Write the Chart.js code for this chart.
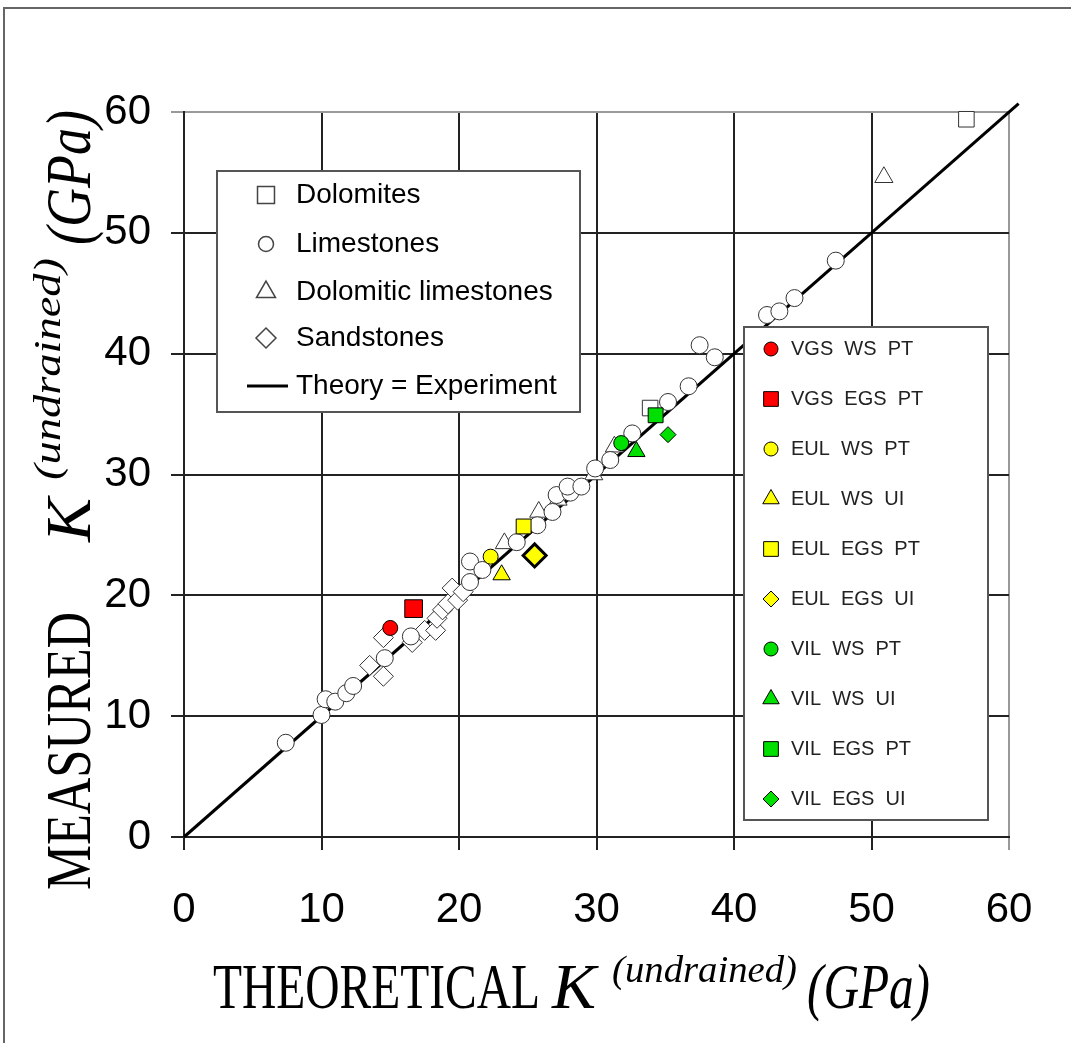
<!DOCTYPE html>
<html>
<head>
<meta charset="utf-8">
<script src="https://cdn.jsdelivr.net/npm/chart.js@4/dist/chart.umd.min.js"></script>
<style>
  html, body { margin: 0; padding: 0; background: #fff; }
  canvas { display: block; }
</style>
</head>
<body>
<canvas id="kChart" width="1071" height="1043"></canvas>
<script>
// axis ticks
const xTicks = [0, 10, 20, 30, 40, 50, 60];
const yTicks = [0, 10, 20, 30, 40, 50, 60];

// rock groups, [theoretical, measured] in GPa
const dolomites = [[56.9, 59.4], [33.9, 35.5]];
const limestones = [
  [7.4, 7.8], [10.0, 10.1], [10.3, 11.4], [11.0, 11.2], [11.8, 11.9], [12.3, 12.5],
  [14.6, 14.8], [16.5, 16.6], [20.8, 21.1], [20.8, 22.8], [21.7, 22.1], [24.2, 24.4],
  [25.7, 25.8], [26.8, 26.9], [27.1, 28.3], [28.1, 28.5], [27.9, 29.0], [28.9, 29.0],
  [29.9, 30.5], [31.0, 31.2], [32.6, 33.4], [35.2, 36.0], [36.7, 37.3], [37.5, 40.7],
  [38.6, 39.7], [42.4, 43.2], [43.3, 43.5], [44.4, 44.6], [47.4, 47.7]
];
const dolomiticLimestones = [
  [50.9, 54.6], [23.3, 24.3], [25.8, 26.9], [27.2, 27.9], [29.8, 30.0], [31.3, 32.3]
];
const sandstones = [
  [13.5, 14.2], [14.5, 13.3], [14.5, 16.5], [16.6, 16.1], [17.5, 17.1], [18.3, 17.1],
  [18.4, 18.1], [18.8, 18.8], [19.2, 19.3], [19.5, 20.6], [19.9, 19.6], [20.3, 20.3]
];
const theoryLine = [[0, 0], [60.7, 60.7]];

// individual samples
const sampleNames = ["VGS  WS  PT", "VGS  EGS  PT", "EUL  WS  PT", "EUL  WS  UI", "EUL  EGS  PT",
                     "EUL  EGS  UI", "VIL  WS  PT", "VIL  WS  UI", "VIL  EGS  PT", "VIL  EGS  UI"];
const sampleX = [15.0, 16.7, 22.3, 23.1, 24.7, 25.5, 31.8, 32.9, 34.3, 35.2];
const sampleY = [17.3, 18.9, 23.2, 21.7, 25.7, 23.3, 32.6, 31.9, 34.9, 33.3];

const RED = "#ff0000", YEL = "#ffff00", GRN = "#00e000";
const sampleStyle = [
  { shape: "circle", color: RED, r: 7.5, bw: 1 },
  { shape: "rect", color: RED, r: 12.5, bw: 1 },
  { shape: "circle", color: YEL, r: 7.5, bw: 1 },
  { shape: "triangle", color: YEL, r: 10, bw: 1 },
  { shape: "rect", color: YEL, r: 10.5, bw: 1 },
  { shape: "rectRot", color: YEL, r: 11.5, bw: 3 },
  { shape: "circle", color: GRN, r: 7.5, bw: 1 },
  { shape: "triangle", color: GRN, r: 10, bw: 1 },
  { shape: "rect", color: GRN, r: 10.5, bw: 1 },
  { shape: "rectRot", color: GRN, r: 8, bw: 1 }
];

const pts = arr => arr.map(p => ({ x: p[0], y: p[1] }));

const datasets = [];
sampleNames.forEach((name, i) => {
  const s = sampleStyle[i];
  datasets.push({
    label: name,
    data: [{ x: sampleX[i], y: sampleY[i] }],
    pointStyle: s.shape, pointRadius: s.r,
    backgroundColor: s.color, borderColor: "#000", borderWidth: s.bw
  });
});
const open = (label, data, shape, r) => ({
  label, data: pts(data), pointStyle: shape, pointRadius: r,
  backgroundColor: "#fff", borderColor: "#333", borderWidth: 1
});
datasets.push(open("Dolomites", dolomites, "rect", 11));
datasets.push(open("Limestones", limestones, "circle", 8.5));
datasets.push(open("Dolomitic limestones", dolomiticLimestones, "triangle", 10.5));
datasets.push(open("Sandstones", sandstones, "rectRot", 10));
datasets.push({
  label: "Theory = Experiment", data: pts(theoryLine), showLine: true,
  borderColor: "#000", borderWidth: 3, pointRadius: 0
});

// small marker drawer for the two legend boxes
function marker(ctx, shape, x, y, r, fill, stroke, bw) {
  ctx.beginPath();
  if (shape === "circle") {
    ctx.arc(x, y, r, 0, Math.PI * 2);
  } else if (shape === "rect") {
    const h = r * Math.SQRT1_2;
    ctx.rect(x - h, y - h, 2 * h, 2 * h);
  } else if (shape === "triangle") {
    for (let k = 0; k < 3; k++) {
      const a = k * 2 * Math.PI / 3;
      ctx[k ? "lineTo" : "moveTo"](x + Math.sin(a) * r, y - Math.cos(a) * r);
    }
    ctx.closePath();
  } else {
    ctx.moveTo(x, y - r); ctx.lineTo(x + r, y); ctx.lineTo(x, y + r); ctx.lineTo(x - r, y);
    ctx.closePath();
  }
  ctx.fillStyle = fill; ctx.fill();
  ctx.lineWidth = bw; ctx.strokeStyle = stroke; ctx.stroke();
}

// text squeezed to a given width
function fitText(ctx, text, x, y, font, w) {
  ctx.font = font;
  const m = ctx.measureText(text).width;
  ctx.save();
  ctx.translate(x, y);
  ctx.scale(w / m, 1);
  ctx.fillText(text, 0, 0);
  ctx.restore();
}

const decor = {
  id: "decor",
  afterDraw(chart) {
    const ctx = chart.ctx;
    ctx.save();
    // outer frame
    ctx.strokeStyle = "#666"; ctx.lineWidth = 2;
    ctx.strokeRect(4, 8, 1100, 1100);

    // axis titles
    ctx.fillStyle = "#000"; ctx.textBaseline = "alphabetic"; ctx.textAlign = "left";
    const serif = '"Liberation Serif", "Times New Roman", serif';
    fitText(ctx, "THEORETICAL", 213, 1008, "64px " + serif, 327);
    fitText(ctx, "K", 552, 1008, "italic 64px " + serif, 44);
    fitText(ctx, "(undrained)", 612, 982, "italic 38px " + serif, 185);
    fitText(ctx, "(GPa)", 807, 1008, "italic 64px " + serif, 123);

    ctx.save();
    ctx.translate(90, 890);
    ctx.rotate(-Math.PI / 2);
    fitText(ctx, "MEASURED", 0, 0, "64px " + serif, 278);
    fitText(ctx, "K", 348, 0, "italic 64px " + serif, 44);
    fitText(ctx, "(undrained)", 410, -30, "italic 38px " + serif, 222);
    fitText(ctx, "(GPa)", 645, 0, "italic 64px " + serif, 135);
    ctx.restore();

    // rock legend
    ctx.fillStyle = "#fff"; ctx.fillRect(217, 171, 363, 241);
    ctx.strokeStyle = "#555"; ctx.lineWidth = 2; ctx.strokeRect(217, 171, 363, 241);
    const rockRows = [
      ["Dolomites", "rect", 12], ["Limestones", "circle", 7.5],
      ["Dolomitic limestones", "triangle", 11], ["Sandstones", "rectRot", 10]
    ];
    const rockY = [195, 244, 292, 338, 386];
    ctx.font = '28px "Liberation Sans", Arial, sans-serif';
    ctx.textBaseline = "middle";
    rockRows.forEach((row, i) => {
      marker(ctx, row[1], 266, rockY[i], row[2], "#fff", "#444", 1.5);
      ctx.fillStyle = "#000";
      ctx.fillText(row[0], 296, rockY[i]);
    });
    ctx.strokeStyle = "#000"; ctx.lineWidth = 3;
    ctx.beginPath(); ctx.moveTo(247, rockY[4]); ctx.lineTo(288, rockY[4]); ctx.stroke();
    ctx.fillText("Theory = Experiment", 296, rockY[4]);

    // sample legend
    ctx.fillStyle = "#fff"; ctx.fillRect(744, 327, 244, 493);
    ctx.strokeStyle = "#555"; ctx.lineWidth = 2; ctx.strokeRect(744, 327, 244, 493);
    ctx.font = '20px "Liberation Sans", Arial, sans-serif';
    const legR = { circle: 7, rect: 10.4, triangle: 9.5, rectRot: 8 };
    sampleNames.forEach((name, i) => {
      const s = sampleStyle[i];
      const y = 349 + i * 50;
      marker(ctx, s.shape, 771, y, legR[s.shape], s.color, "#000", 1);
      ctx.fillStyle = "#222";
      ctx.fillText(name, 791, y);
    });
    ctx.restore();
  }
};

const tickFont = { family: '"Liberation Sans", Arial, sans-serif', size: 42 };
const gridColor = c => (c.tick && c.tick.value === 60 ? "#999" : "#222");

new Chart(document.getElementById("kChart"), {
  type: "scatter",
  data: { datasets },
  options: {
    responsive: false,
    animation: false,
    clip: false,
    layout: { padding: { left: 0, top: 112, right: 62, bottom: 0 } },
    plugins: { legend: { display: false }, tooltip: { enabled: false } },
    scales: {
      x: {
        min: 0, max: 60,
        afterBuildTicks: s => { s.ticks = xTicks.map(v => ({ value: v })); },
        afterFit: s => { s.height = 206; },
        ticks: { font: tickFont, color: "#000", padding: 35, maxRotation: 0 },
        grid: { color: gridColor, lineWidth: 2, tickLength: 13 },
        border: { color: "#222", width: 2 }
      },
      y: {
        min: 0, max: 60,
        afterBuildTicks: s => { s.ticks = yTicks.map(v => ({ value: v })); },
        afterFit: s => { s.width = 184; },
        ticks: { font: tickFont, color: "#000", padding: 20 },
        grid: { color: gridColor, lineWidth: 2, tickLength: 13 },
        border: { color: "#222", width: 2 }
      }
    }
  },
  plugins: [decor]
});
</script>
</body>
</html>
